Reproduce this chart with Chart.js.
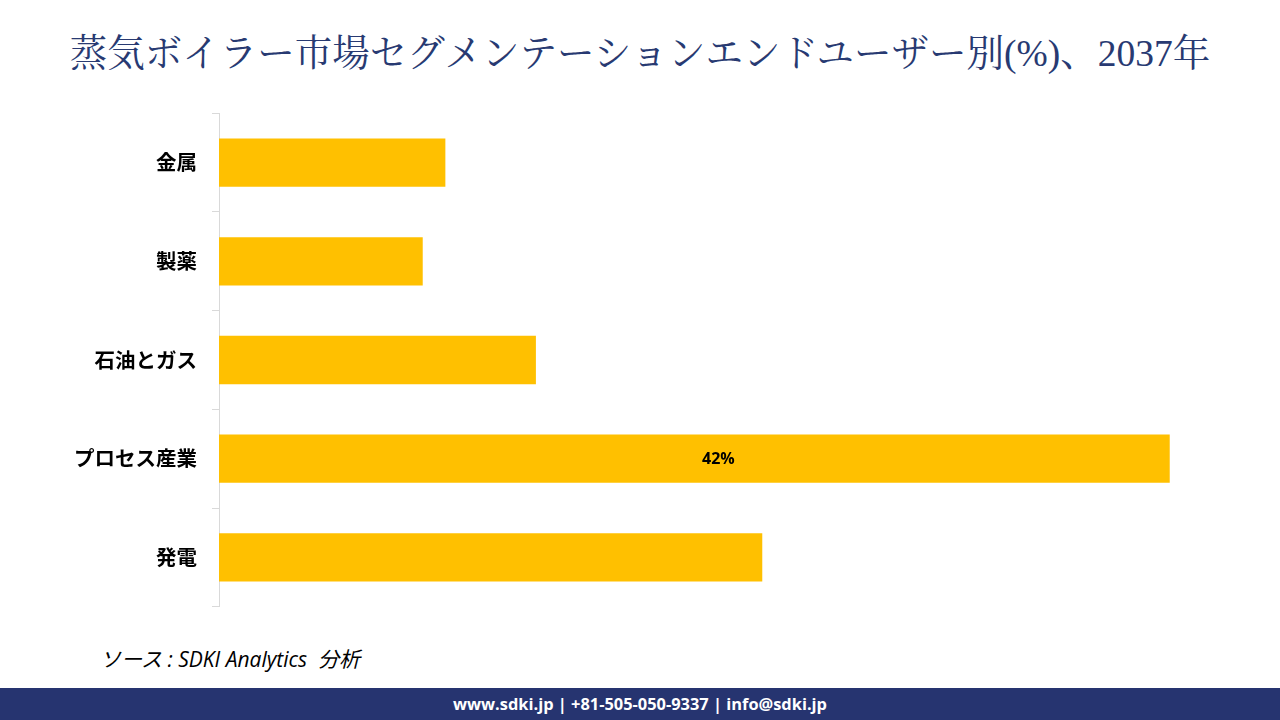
<!DOCTYPE html>
<html>
<head>
<meta charset="utf-8">
<script src="https://cdn.jsdelivr.net/npm/chart.js@4.4.1/dist/chart.umd.min.js"></script>
<style>
  html,body{margin:0;padding:0;background:#fff;width:1280px;height:720px;overflow:hidden;}
  #title{position:absolute;left:0;top:23px;width:1280px;text-align:center;font-family:"Liberation Serif","Noto Serif CJK JP","Noto Sans CJK JP",serif;font-size:37.5px;color:#283a72;white-space:nowrap;}
  #wrap{position:absolute;left:0;top:86px;width:1280px;height:548px;}
  #source{position:absolute;left:100px;top:643px;font-family:"Open Sans","Noto Sans CJK JP",sans-serif;font-style:italic;font-size:21px;color:#000;}
  #footer{position:absolute;left:0;top:688px;width:1280px;height:32px;background:#263470;color:#fff;text-align:center;font-family:"Open Sans","Noto Sans",sans-serif;font-weight:bold;font-size:16.4px;line-height:32px;}
</style>
</head>
<body>
<div id="title">蒸気ボイラー市場セグメンテーションエンドユーザー別(%)、2037年</div>
<div id="wrap"><canvas id="c" width="1280" height="548"></canvas></div>
<div id="source">ソース : SDKI Analytics&nbsp; 分析</div>
<div id="footer">www.sdki.jp | +81-505-050-9337 | info@sdki.jp</div>
<script>
const categories = ["金属", "製薬", "石油とガス", "プロセス産業", "発電"];
const shareValues = [10, 9, 14, 42, 24];
const labelShown = [false, false, false, true, false];

const barLabelPlugin = {
  id: 'barLabel',
  afterDatasetsDraw(chart) {
    const ctx = chart.ctx;
    const meta = chart.getDatasetMeta(0);
    ctx.save();
    ctx.font = 'bold 16px "Open Sans", "Noto Sans", sans-serif';
    ctx.fillStyle = '#000';
    ctx.textAlign = 'center';
    ctx.textBaseline = 'middle';
    meta.data.forEach((bar, i) => {
      if (!labelShown[i]) return;
      const x = (bar.x + bar.base) / 2 + 24;
      ctx.fillText(shareValues[i] + '%', x, bar.y + 1);
    });
    ctx.restore();
  }
};

new Chart(document.getElementById('c'), {
  type: 'bar',
  data: {
    labels: categories,
    datasets: [{
      data: shareValues,
      backgroundColor: '#FFC000',
      borderWidth: 0,
      categoryPercentage: 0.98,
      barPercentage: 0.5
    }]
  },
  options: {
    indexAxis: 'y',
    responsive: false,
    animation: false,
    events: [],
    layout: { padding: { top: 1, bottom: 2, right: 65, left: 0 } },
    plugins: { legend: { display: false }, tooltip: { enabled: false }, title: { display: false } },
    scales: {
      x: { display: false, min: 0, max: 44 },
      y: {
        offset: true,
        border: { display: true, color: '#d9d9d9', width: 1 },
        grid: { drawOnChartArea: false, drawTicks: true, tickLength: 7, color: '#d9d9d9', offset: true },
        ticks: {
          color: '#000',
          padding: 15,
          font: { family: '"Noto Sans CJK JP", sans-serif', size: 20.5, weight: 'bold' }
        },
        afterFit(scale) { scale.width = 219; }
      }
    }
  },
  plugins: [barLabelPlugin]
});
</script>
</body>
</html>
